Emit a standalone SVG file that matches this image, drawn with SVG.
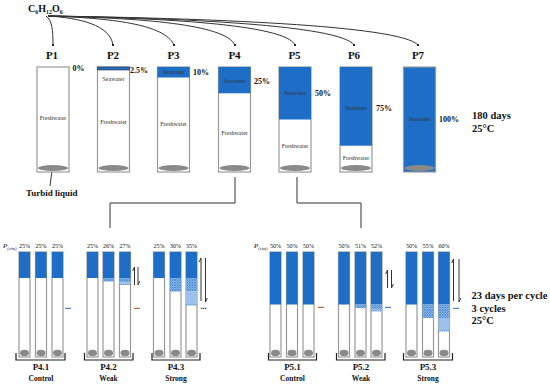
<svg xmlns="http://www.w3.org/2000/svg" width="550" height="386" viewBox="0 0 550 386">
<defs>
<style>
.t{font-family:"Liberation Serif","Times New Roman",serif;fill:#111}
.b{font-weight:bold}
.tube{fill:#fff;stroke:#999;stroke-width:1.2}
.sea{fill:#1e6ec8}
.sed{fill:#8a8a8a}
.in{font-family:"Liberation Serif","Times New Roman",serif;font-size:6px;fill:#333;text-anchor:middle}
.pl{font-size:11px;text-anchor:middle}
.pc{font-size:8px}
.sp{font-family:"Liberation Serif","Times New Roman",serif;font-size:6px;fill:#111;text-anchor:middle}
.line{fill:none;stroke:#333;stroke-width:1}
.br{fill:none;stroke:#222;stroke-width:1.2}
.lb{font-size:9px;text-anchor:middle}
.lbs{font-size:7.5px;text-anchor:middle}
.dots{font-size:8px;text-anchor:middle}
.hb{fill:url(#hatch)}
.lbl{fill:#9dc1ea}
.dl{stroke:#1e6ec8;stroke-width:0.8;stroke-dasharray:1 0.8}
</style>
<pattern id="hatch" width="2.5" height="2.5" patternUnits="userSpaceOnUse">
<rect width="2.5" height="2.5" fill="#a9c9ee"/>
<path d="M0,0 L2.5,2.5 M2.5,0 L0,2.5" stroke="#1e6ec8" stroke-width="0.6"/>
</pattern>
<marker id="ah" viewBox="0 0 6 6" refX="3" refY="5" markerWidth="3" markerHeight="3" orient="auto-start-reverse" markerUnits="strokeWidth">
<path d="M0,0 L6,3 L0,6 z" fill="#222"/>
</marker>
<marker id="dot" viewBox="0 0 4 4" refX="2" refY="2" markerWidth="2.5" markerHeight="2.5" markerUnits="strokeWidth">
<circle cx="2" cy="2" r="2" fill="#222"/>
</marker>
</defs>
<rect width="550" height="386" fill="#fff"/>

<g id="glucose">
<text class="t b" x="28" y="12" font-size="10">C<tspan font-size="6" dy="2">6</tspan><tspan dy="-2">H</tspan><tspan font-size="6" dy="2">12</tspan><tspan dy="-2">O</tspan><tspan font-size="6" dy="2">6</tspan></text>
</g>

<g id="connectors">
<path class="line" marker-end="url(#dot)" d="M46,16 C52,20 53,30 53,45"/>
<path class="line" marker-end="url(#dot)" d="M48,16 C80,18 110,25 113,45"/>
<path class="line" marker-end="url(#dot)" d="M48,16 C110,18 165,24 174,45"/>
<path class="line" marker-end="url(#dot)" d="M48,16 C140,18 225,24 235,45"/>
<path class="line" marker-end="url(#dot)" d="M48,16 C160,18 285,24 295,45"/>
<path class="line" marker-end="url(#dot)" d="M48,16 C180,18 340,25 354,45"/>
<path class="line" marker-end="url(#dot)" d="M48,16 C200,18 400,25 418,45"/>
<path class="line" d="M52,170 L50,186"/>
<path class="line" d="M235,177 V203 H110 V228"/>
<path class="line" d="M297,177 V203 H361 V228"/>
<path class="line" marker-end="url(#ah)" d="M113,77 V71.5" stroke-width="0.8"/>
</g>

<g id="P1">
<text class="t b pl" x="52" y="59">P1</text>
<rect class="tube" x="37" y="67" width="32" height="105"/>
<ellipse class="sed" cx="53" cy="168" rx="15" ry="3"/>
<text class="in" x="53" y="120">Freshwater</text>
<text class="t b pc" x="72.5" y="71">0%</text>
<text class="t b" x="26" y="196" font-size="9">Turbid liquid</text>
</g>

<g id="P2">
<text class="t b pl" x="113" y="59">P2</text>
<rect class="tube" x="97.5" y="67" width="32" height="105"/>
<rect class="sea" x="97.5" y="67" width="32" height="3" stroke="#333" stroke-width="0.6"/>
<ellipse class="sed" cx="113.5" cy="168" rx="15" ry="3"/>
<text class="in" x="113.5" y="81">Seawater</text>
<text class="in" x="113.5" y="124">Freshwater</text>
<text class="t b pc" x="130" y="72.5">2.5%</text>
</g>

<g id="P3">
<text class="t b pl" x="173.5" y="59">P3</text>
<rect class="tube" x="157.5" y="67" width="32" height="105"/>
<rect class="sea" x="157.5" y="67" width="32" height="10.5"/>
<ellipse class="sed" cx="173.5" cy="168" rx="15" ry="3"/>
<text class="in" x="173.5" y="74.3" fill="#111">Seawater</text>
<text class="in" x="173.5" y="126">Freshwater</text>
<text class="t b pc" x="193" y="75">10%</text>
</g>

<g id="P4">
<text class="t b pl" x="234.5" y="59">P4</text>
<rect class="tube" x="218.5" y="67" width="32" height="105"/>
<rect class="sea" x="218.5" y="67" width="32" height="26.3"/>
<ellipse class="sed" cx="234.5" cy="168" rx="15" ry="3"/>
<text class="in" x="234.5" y="83">Seawater</text>
<text class="in" x="234.5" y="135">Freshwater</text>
<text class="t b pc" x="254" y="84">25%</text>
</g>

<g id="P5">
<text class="t b pl" x="294.5" y="59">P5</text>
<rect class="tube" x="279" y="67" width="32" height="105"/>
<rect class="sea" x="279" y="67" width="32" height="52.5"/>
<ellipse class="sed" cx="295" cy="168" rx="15" ry="3"/>
<text class="in" x="295" y="95">Seawater</text>
<text class="in" x="295" y="148">Freshwater</text>
<text class="t b pc" x="315" y="96">50%</text>
</g>

<g id="P6">
<text class="t b pl" x="354" y="59">P6</text>
<rect class="tube" x="340" y="67" width="32" height="105"/>
<rect class="sea" x="340" y="67" width="32" height="78.7"/>
<ellipse class="sed" cx="356" cy="168" rx="15" ry="3"/>
<text class="in" x="356" y="110">Seawater</text>
<text class="in" x="356" y="160">Freshwater</text>
<text class="t b pc" x="376" y="111">75%</text>
</g>

<g id="P7">
<text class="t b pl" x="418" y="59">P7</text>
<rect class="tube sea" x="403.5" y="67" width="32" height="105" fill="#1e6ec8"/>
<ellipse class="sed" cx="419.5" cy="168" rx="15" ry="3"/>
<text class="in" x="419.5" y="121">Seawater</text>
<text class="t b pc" x="439" y="122">100%</text>
</g>

<g id="cond-top">
<text class="t b" x="472" y="119" font-size="10.5">180 days</text>
<text class="t b" x="472" y="132" font-size="10.5">25°C</text>
</g>

<g id="P4.1">
<text class="t" x="3" y="248" font-size="7" font-style="italic">P<tspan font-size="4.5" dy="1.5">(sim)</tspan></text>
<rect class="tube" x="19" y="252" width="11" height="105"/><rect class="sea" x="19" y="252" width="11" height="26"/>
<rect class="tube" x="35.5" y="252" width="11" height="105"/><rect class="sea" x="35.5" y="252" width="11" height="26"/>
<rect class="tube" x="52" y="252" width="11" height="105"/><rect class="sea" x="52" y="252" width="11" height="26"/>
<ellipse class="sed" cx="24.5" cy="353" rx="4.5" ry="3.2"/><ellipse class="sed" cx="41" cy="353" rx="4.5" ry="3.2"/><ellipse class="sed" cx="57.5" cy="353" rx="4.5" ry="3.2"/>
<text class="sp" x="24.5" y="248">25%</text><text class="sp" x="41" y="248">25%</text><text class="sp" x="57.5" y="248">25%</text>
<text class="t b dots" x="68" y="309">...</text>
<path class="br" d="M16,353 V360 H65 V353"/>
<text class="t b lb" x="41" y="370">P4.1</text>
<text class="t b lbs" x="41" y="381">Control</text>
</g>

<g id="P4.2">
<rect class="tube" x="87" y="252" width="11" height="105"/><rect class="sea" x="87" y="252" width="11" height="26"/>
<rect class="tube" x="103" y="252" width="11" height="105"/><rect class="sea" x="103" y="252" width="11" height="26"/><rect class="hb" x="103" y="278" width="11" height="3.5"/>
<rect class="tube" x="119.5" y="252" width="11" height="105"/><rect class="sea" x="119.5" y="252" width="11" height="26"/><rect class="hb" x="119.5" y="278" width="11" height="4.5"/><rect class="lbl" x="119.5" y="282.5" width="11" height="2"/><line class="dl" x1="119.5" y1="284.5" x2="130.5" y2="284.5"/>
<ellipse class="sed" cx="92.5" cy="353" rx="4.5" ry="3.2"/><ellipse class="sed" cx="108.5" cy="353" rx="4.5" ry="3.2"/><ellipse class="sed" cx="125" cy="353" rx="4.5" ry="3.2"/>
<text class="sp" x="92.5" y="248">25%</text><text class="sp" x="108.5" y="248">26%</text><text class="sp" x="125" y="248">27%</text>
<path class="line" d="M134.5,285 V267 l-1.8,4"/><path class="line" d="M138,267 V285 l1.8,-4"/>
<text class="t b dots" x="137" y="309">...</text>
<path class="br" d="M84.5,353 V360 H133 V353"/>
<text class="t b lb" x="108.5" y="370">P4.2</text>
<text class="t b lbs" x="108.5" y="381">Weak</text>
</g>

<g id="P4.3">
<rect class="tube" x="153.5" y="252" width="11" height="105"/><rect class="sea" x="153.5" y="252" width="11" height="26"/>
<rect class="tube" x="170" y="252" width="11" height="105"/><rect class="sea" x="170" y="252" width="11" height="26"/><rect class="hb" x="170" y="278" width="11" height="13.5"/>
<rect class="tube" x="186" y="252" width="11" height="105"/><rect class="sea" x="186" y="252" width="11" height="26"/><rect class="hb" x="186" y="278" width="11" height="13.5"/><rect class="lbl" x="186" y="291.5" width="11" height="13.5"/><line class="dl" x1="186" y1="305" x2="197" y2="305"/>
<ellipse class="sed" cx="159" cy="353" rx="4.5" ry="3.2"/><ellipse class="sed" cx="175.5" cy="353" rx="4.5" ry="3.2"/><ellipse class="sed" cx="191.5" cy="353" rx="4.5" ry="3.2"/>
<text class="sp" x="159" y="248">25%</text><text class="sp" x="175.5" y="248">30%</text><text class="sp" x="191.5" y="248">35%</text>
<path class="line" d="M201,301 V258 l-1.8,4"/><path class="line" d="M205.5,258 V302 l1.8,-4"/>
<text class="t b dots" x="203.5" y="309">...</text>
<path class="br" d="M152,353 V360 H200 V353"/>
<text class="t b lb" x="176" y="370">P4.3</text>
<text class="t b lbs" x="176" y="381">Strong</text>
</g>

<g id="P5.1">
<text class="t" x="254" y="248" font-size="7" font-style="italic">P<tspan font-size="4.5" dy="1.5">(sim)</tspan></text>
<rect class="tube" x="270" y="252" width="11" height="105"/><rect class="sea" x="270" y="252" width="11" height="52.5"/>
<rect class="tube" x="286.5" y="252" width="11" height="105"/><rect class="sea" x="286.5" y="252" width="11" height="52.5"/>
<rect class="tube" x="303" y="252" width="11" height="105"/><rect class="sea" x="303" y="252" width="11" height="52.5"/>
<ellipse class="sed" cx="275.5" cy="353" rx="4.5" ry="3.2"/><ellipse class="sed" cx="292" cy="353" rx="4.5" ry="3.2"/><ellipse class="sed" cx="308.5" cy="353" rx="4.5" ry="3.2"/>
<text class="sp" x="275.5" y="248">50%</text><text class="sp" x="292" y="248">50%</text><text class="sp" x="308.5" y="248">50%</text>
<text class="t b dots" x="321" y="308">...</text>
<path class="br" d="M268.5,353 V360 H316.5 V353"/>
<text class="t b lb" x="292.5" y="370">P5.1</text>
<text class="t b lbs" x="292.5" y="381">Control</text>
</g>

<g id="P5.2">
<rect class="tube" x="338.5" y="252" width="11" height="105"/><rect class="sea" x="338.5" y="252" width="11" height="52.5"/>
<rect class="tube" x="355" y="252" width="11" height="105"/><rect class="sea" x="355" y="252" width="11" height="52.5"/><rect class="hb" x="355" y="304.5" width="11" height="3.5"/>
<rect class="tube" x="371" y="252" width="11" height="105"/><rect class="sea" x="371" y="252" width="11" height="52.5"/><rect class="hb" x="371" y="304.5" width="11" height="4.5"/><rect class="lbl" x="371" y="309" width="11" height="2"/><line class="dl" x1="371" y1="311" x2="382" y2="311"/>
<ellipse class="sed" cx="344" cy="353" rx="4.5" ry="3.2"/><ellipse class="sed" cx="360.5" cy="353" rx="4.5" ry="3.2"/><ellipse class="sed" cx="376.5" cy="353" rx="4.5" ry="3.2"/>
<text class="sp" x="344" y="248">50%</text><text class="sp" x="360.5" y="248">51%</text><text class="sp" x="376.5" y="248">52%</text>
<path class="line" d="M387.5,288 V270 l-1.8,4"/><path class="line" d="M391.5,270 V288 l1.8,-4"/>
<text class="t b dots" x="388" y="308">...</text>
<path class="br" d="M336.5,353 V360 H385 V353"/>
<text class="t b lb" x="361" y="370">P5.2</text>
<text class="t b lbs" x="361" y="381">Weak</text>
</g>

<g id="P5.3">
<rect class="tube" x="406" y="252" width="11" height="105"/><rect class="sea" x="406" y="252" width="11" height="52.5"/>
<rect class="tube" x="422.5" y="252" width="11" height="105"/><rect class="sea" x="422.5" y="252" width="11" height="52.5"/><rect class="hb" x="422.5" y="304.5" width="11" height="13.5"/>
<rect class="tube" x="438.5" y="252" width="11" height="105"/><rect class="sea" x="438.5" y="252" width="11" height="52.5"/><rect class="hb" x="438.5" y="304.5" width="11" height="13.5"/><rect class="lbl" x="438.5" y="318" width="11" height="13"/><line class="dl" x1="438.5" y1="331" x2="449.5" y2="331"/>
<ellipse class="sed" cx="411.5" cy="353" rx="4.5" ry="3.2"/><ellipse class="sed" cx="428" cy="353" rx="4.5" ry="3.2"/><ellipse class="sed" cx="444" cy="353" rx="4.5" ry="3.2"/>
<text class="sp" x="411.5" y="248">50%</text><text class="sp" x="428" y="248">55%</text><text class="sp" x="444" y="248">60%</text>
<path class="line" d="M453.5,301 V259 l-1.8,4"/><path class="line" d="M459,259 V302 l1.8,-4"/>
<text class="t b dots" x="456" y="309">...</text>
<path class="br" d="M403.5,353 V360 H452.5 V353"/>
<text class="t b lb" x="428" y="370">P5.3</text>
<text class="t b lbs" x="428" y="381">Strong</text>
</g>

<g id="cond-bottom">
<text class="t b" x="471.5" y="299" font-size="10.5">23 days per cycle</text>
<text class="t b" x="471.5" y="311.5" font-size="10.5">3 cycles</text>
<text class="t b" x="471.5" y="324" font-size="10.5">25°C</text>
</g>
</svg>
